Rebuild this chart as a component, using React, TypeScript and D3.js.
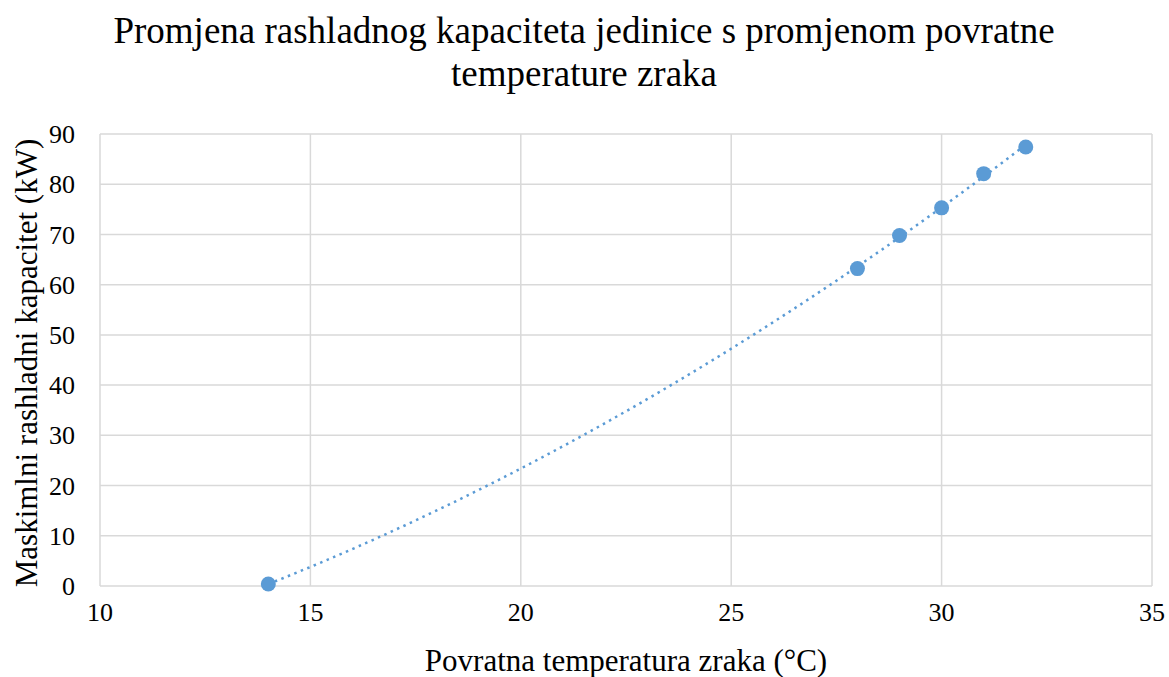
import React from "react";
import * as d3 from "d3";

const xValues = [14, 28, 29, 30, 31, 32];
const yValues = [0.4, 63.2, 69.8, 75.3, 82.1, 87.4];
const xTicks = [10, 15, 20, 25, 30, 35];
const yTicks = [0, 10, 20, 30, 40, 50, 60, 70, 80, 90];
const titleLines = [
  "Promjena rashladnog kapaciteta jedinice s promjenom povratne",
  "temperature zraka",
];
const xTitle = "Povratna temperatura zraka (°C)";
const yTitle = "Maskimlni rashladni kapacitet (kW)";

// quadratic least-squares trendline (like a spreadsheet polynomial trendline)
function quadFit(xs: number[], ys: number[]) {
  const n = xs.length;
  const s = [0, 0, 0, 0, 0];
  const t = [0, 0, 0];
  for (let i = 0; i < n; i++) {
    const xv = xs[i], yv = ys[i];
    for (let k = 0; k <= 4; k++) s[k] += Math.pow(xv, k);
    for (let k = 0; k <= 2; k++) t[k] += yv * Math.pow(xv, k);
  }
  const A = [
    [s[0], s[1], s[2], t[0]],
    [s[1], s[2], s[3], t[1]],
    [s[2], s[3], s[4], t[2]],
  ];
  for (let i = 0; i < 3; i++) {
    let p = i;
    for (let r = i + 1; r < 3; r++) if (Math.abs(A[r][i]) > Math.abs(A[p][i])) p = r;
    [A[i], A[p]] = [A[p], A[i]];
    for (let r = 0; r < 3; r++) {
      if (r === i) continue;
      const f = A[r][i] / A[i][i];
      for (let c = i; c < 4; c++) A[r][c] -= f * A[i][c];
    }
  }
  const c = [A[0][3] / A[0][0], A[1][3] / A[1][1], A[2][3] / A[2][2]];
  return (xv: number) => c[0] + c[1] * xv + c[2] * xv * xv;
}

export default function App() {
  const W = 1169, H = 677;
  const left = 100, right = 1152, top = 134, bottom = 586;
  const x = d3.scaleLinear().domain([10, 35]).range([left, right]);
  const y = d3.scaleLinear().domain([0, 90]).range([bottom, top]);
  const f = quadFit(xValues, yValues);
  const xmin = d3.min(xValues)!, xmax = d3.max(xValues)!;
  const trend = d3.range(0, 101).map((i) => {
    const xv = xmin + ((xmax - xmin) * i) / 100;
    return [xv, f(xv)] as [number, number];
  });
  const line = d3.line<[number, number]>().x((d) => x(d[0])).y((d) => y(d[1]));
  const font = "'Liberation Serif', 'Times New Roman', serif";
  return (
    <svg width={W} height={H} style={{ position: "absolute", left: 0, top: 0, background: "#fff" }} fontFamily={font}>
      <rect x={0} y={0} width={W} height={H} fill="#fff" />
      {titleLines.map((t, i) => (
        <text key={i} x={584} y={43 + i * 43} textAnchor="middle" fontSize={37} fill="#000">
          {t}
        </text>
      ))}
      {yTicks.map((v) => (
        <line key={"gy" + v} x1={left} x2={right} y1={y(v)} y2={y(v)} stroke="#d9d9d9" strokeWidth={1.5} />
      ))}
      {xTicks.map((v) => (
        <line key={"gx" + v} x1={x(v)} x2={x(v)} y1={top} y2={bottom} stroke="#d9d9d9" strokeWidth={1.5} />
      ))}
      {yTicks.map((v) => (
        <text key={"ty" + v} x={left - 25} y={y(v)} dy="0.35em" textAnchor="end" fontSize={26} fill="#000">
          {v}
        </text>
      ))}
      {xTicks.map((v) => (
        <text key={"tx" + v} x={x(v)} y={621} textAnchor="middle" fontSize={26} fill="#000">
          {v}
        </text>
      ))}
      <text x={626} y={671} textAnchor="middle" fontSize={31} fill="#000">
        {xTitle}
      </text>
      <text transform={`translate(37, 363) rotate(-90)`} textAnchor="middle" fontSize={31} fill="#000">
        {yTitle}
      </text>
      <path d={line(trend)!} fill="none" stroke="#5b9bd5" strokeWidth={2.5} strokeDasharray="2.5 4.5" />
      {xValues.map((xv, i) => (
        <circle key={"p" + i} cx={x(xv)} cy={y(yValues[i])} r={7.5} fill="#5b9bd5" />
      ))}
    </svg>
  );
}
